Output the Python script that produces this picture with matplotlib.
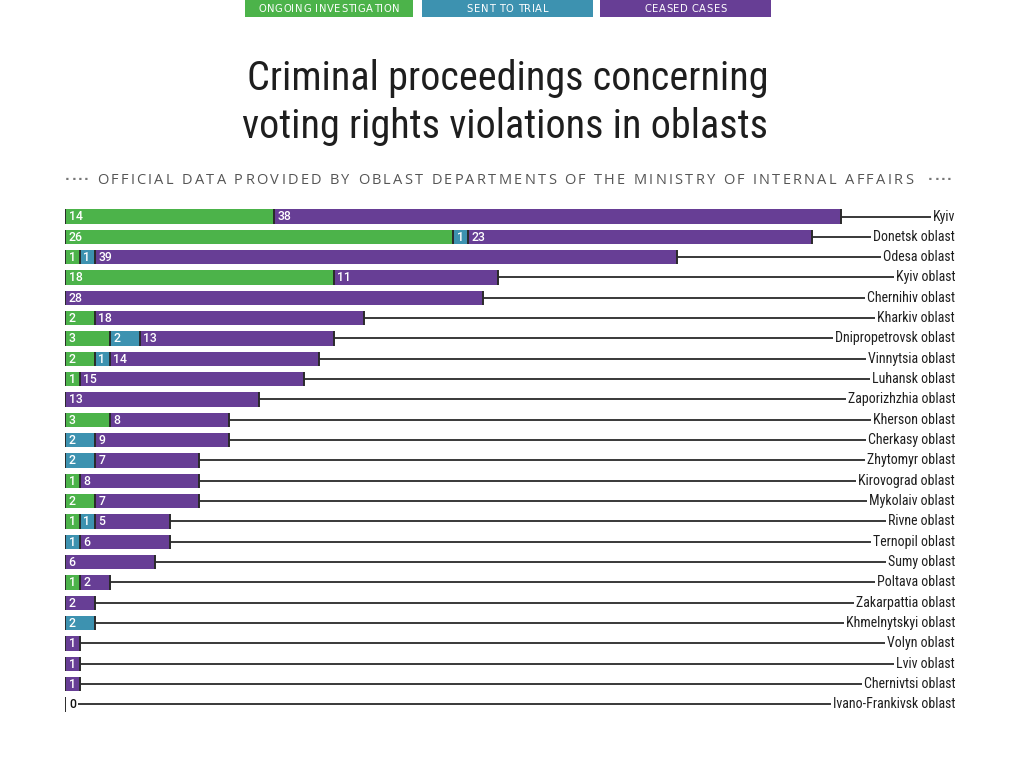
import matplotlib
matplotlib.use('Agg')
import matplotlib.pyplot as plt
from matplotlib.patches import Rectangle
from matplotlib.font_manager import FontProperties, fontManager

regions = ["Kyiv", "Donetsk oblast", "Odesa oblast", "Kyiv oblast", "Chernihiv oblast",
           "Kharkiv oblast", "Dnipropetrovsk oblast", "Vinnytsia oblast", "Luhansk oblast",
           "Zaporizhzhia oblast", "Kherson oblast", "Cherkasy oblast", "Zhytomyr oblast",
           "Kirovograd oblast", "Mykolaiv oblast", "Rivne oblast", "Ternopil oblast",
           "Sumy oblast", "Poltava oblast", "Zakarpattia oblast", "Khmelnytskyi oblast",
           "Volyn oblast", "Lviv oblast", "Chernivtsi oblast", "Ivano-Frankivsk oblast"]
ongoing = [14, 26, 1, 18, 0, 2, 3, 2, 1, 0, 3, 0, 0, 1, 2, 1, 0, 0, 1, 0, 0, 0, 0, 0, 0]
trial   = [0, 1, 1, 0, 0, 0, 2, 1, 0, 0, 0, 2, 2, 0, 0, 1, 1, 0, 0, 0, 2, 0, 0, 0, 0]
ceased  = [38, 23, 39, 11, 28, 18, 13, 14, 15, 13, 8, 9, 7, 8, 7, 5, 6, 6, 2, 2, 0, 1, 1, 1, 0]

legend_labels = ["ONGOING INVESTIGATION", "SENT TO TRIAL", "CEASED CASES"]
title_lines = ["Criminal proceedings concerning", "voting rights violations in oblasts"]
subtitle = "OFFICIAL DATA PROVIDED BY OBLAST DEPARTMENTS OF THE MINISTRY OF INTERNAL AFFAIRS"

GREEN, BLUE, PURPLE = "#4cb34a", "#3d92b0", "#673e95"
DARK = "#2a2a2a"

# choose a condensed family if one is installed
available = {(f.name, f.stretch) for f in fontManager.ttflist}
avail_names = {f.name for f in fontManager.ttflist}
cond_family, cond_stretch = "DejaVu Sans", "normal"
for nm in ["Roboto Condensed", "Liberation Sans Narrow", "Open Sans Condensed",
           "Noto Sans Condensed", "Archivo Narrow"]:
    if nm in avail_names:
        cond_family, cond_stretch = nm, "normal"
        break
else:
    for nm in ["Roboto", "DejaVu Sans", "Noto Sans", "Open Sans", "Liberation Sans"]:
        hits = [s for (n_, s) in available if n_ == nm and str(s) in
                ("condensed", "semi-condensed", "extra-condensed", "75", "87.5", "62.5")]
        if hits:
            cond_family, cond_stretch = nm, "condensed"
            break


def CP(size, weight="normal"):
    return FontProperties(family=cond_family, stretch=cond_stretch, size=size, weight=weight)


W, H = 1017, 764
fig = plt.figure(figsize=(W / 100, H / 100), dpi=100)
fig.patch.set_facecolor("white")
renderer = fig.canvas.get_renderer()

bg = fig.add_axes([0, 0, 1, 1])
bg.set_xlim(0, W)
bg.set_ylim(H, 0)
bg.axis("off")


def tw(s, prop):
    return renderer.get_text_width_height_descent(s, prop, ismath=False)[0]


def spaced_text(ax, xc, y, s, prop, tracking, color):
    widths = [tw(c, prop) for c in s]
    total = sum(widths) + tracking * (len(s) - 1)
    x = xc - total / 2
    for c, w in zip(s, widths):
        ax.text(x, y, c, fontproperties=prop, color=color, ha="left", va="center")
        x += w + tracking


# legend boxes
boxes = [(245, 413, GREEN), (422, 593, BLUE), (600, 771, PURPLE)]
lp = FontProperties(family="DejaVu Sans", size=7.2)
for (x0, x1, col), lab in zip(boxes, legend_labels):
    bg.add_patch(Rectangle((x0, 0), x1 - x0, 16.5, facecolor=col, edgecolor="none"))
    spaced_text(bg, (x0 + x1) / 2, 8.5, lab, lp, 0.6, "white")

# title, fitted to width
tp = CP(30)
w0 = tw(title_lines[0], tp)
tp.set_size(30 * 520.0 / w0)
bg.text(508, 79, title_lines[0], fontproperties=tp, color="#1e1e1e", ha="center", va="center")
bg.text(505, 126, title_lines[1], fontproperties=tp, color="#1e1e1e", ha="center", va="center")

# subtitle with tracking
sp = FontProperties(family="Open Sans", size=10.5)
widths = [tw(c, sp) for c in subtitle]
track = (816 - sum(widths)) / (len(subtitle) - 1)
spaced_text(bg, 505, 181, subtitle, sp, track, "#555555")
dp = FontProperties(family="DejaVu Sans", size=9, weight="bold")
spaced_text(bg, 77, 180, "····", dp, 1.6, "#777777")
spaced_text(bg, 940, 180, "····", dp, 1.6, "#777777")

# main chart
left_px, right_px = 65, 955
unit_px = 14.93
top_row, spacing = 216.5, 20.33
n = len(regions)
ax_top = top_row - spacing * 0.5
ax_bot = top_row + spacing * (n - 0.5)
ax = fig.add_axes([left_px / W, 1 - ax_bot / H, (right_px - left_px) / W, (ax_bot - ax_top) / H])
xmax = (right_px - left_px) / unit_px
ax.set_xlim(0, xmax)
ax.set_ylim(n - 0.5, -0.5)
ax.axis("off")

bh = 0.71
ys = list(range(n))
ax.barh(ys, ongoing, height=bh, color=GREEN, linewidth=0)
ax.barh(ys, trial, left=ongoing, height=bh, color=BLUE, linewidth=0)
left2 = [o + t for o, t in zip(ongoing, trial)]
ax.barh(ys, ceased, left=left2, height=bh, color=PURPLE, linewidth=0)

rp = CP(10)
vp = FontProperties(family="Roboto", size=8.8, weight="medium")
for i in range(n):
    segs = [(0, ongoing[i]), (ongoing[i], trial[i]), (left2[i], ceased[i])]
    total = left2[i] + ceased[i]
    bounds = {0}
    for s, v in segs:
        if v > 0:
            bounds.add(s)
            bounds.add(s + v)
    for bx in bounds:
        ax.vlines(bx, i - bh / 2, i + bh / 2, color=DARK, linewidth=1.4)
    for s, v in segs:
        if v > 0:
            ax.text(s + 3.5 / unit_px, i + 0.02, str(v), fontproperties=vp, color="white",
                    ha="left", va="center")
    if total == 0:
        ax.text(4 / unit_px, i + 0.02, "0", fontproperties=vp, color="#111111",
                ha="left", va="center")
        line_start = 13 / unit_px
    else:
        line_start = total
    lw = tw(regions[i], rp)
    line_end = xmax - (lw + 2) / unit_px
    ax.hlines(i, line_start, line_end, color=DARK, linewidth=1.3)
    ax.text(xmax, i, regions[i], fontproperties=rp, color="#1e1e1e", ha="right", va="center")

fig.savefig("out.png", dpi=100, facecolor="white")
